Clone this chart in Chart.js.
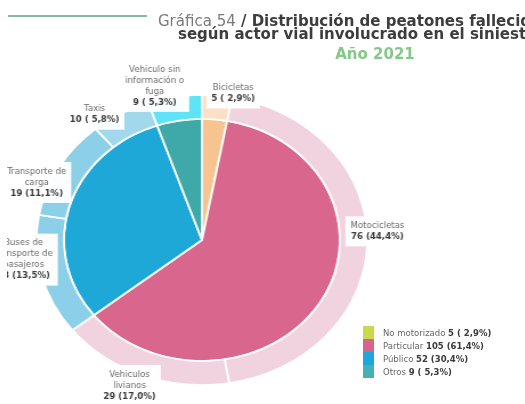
<!DOCTYPE html>
<html>
<head>
<meta charset="utf-8">
<script src="https://cdn.jsdelivr.net/npm/chart.js@4.4.1/dist/chart.umd.min.js"></script>
<style>
body { margin: 0; width: 525px; height: 404px; overflow: hidden; background: #fff; font-family: "DejaVu Sans", sans-serif; position: relative; }
.rule { position: absolute; left: 8px; top: 15px; width: 139px; height: 2px; background: #86b9a2; }
.t { position: absolute; white-space: nowrap; font-size: 15px; line-height: 15px; color: #3d3d3d; font-weight: 700; }
#t1 { left: 158px; top: 14px; }
#t1 span { font-weight: 400; color: #7a7a7a; }
#t2 { left: 178px; top: 27px; }
#t3 { left: 0; width: 750px; text-align: center; top: 47px; color: #84c98a; }
#plot { position: absolute; left: 7px; top: 0; width: 518px; height: 404px; overflow: hidden; }
#inner { width: 400px; height: 404px; transform: scaleX(1.14); transform-origin: 0 0; }
#legend { position: absolute; left: 363px; top: 326px; font-size: 8.5px; color: #666; }
.row { height: 13px; display: flex; align-items: center; white-space: nowrap; }
.sw { width: 11px; height: 13px; margin-right: 9px; }
.row b { color: #3a3a3a; }
</style>
</head>
<body>
<div class="rule"></div>
<div id="plot"><div id="inner"><canvas id="grafico" width="400" height="404"></canvas></div></div>
<div class="t" id="t1"><span>Gráfica 54</span> / Distribución de peatones fallecidos</div>
<div class="t" id="t2">según actor vial involucrado en el siniestro</div>
<div class="t" id="t3">Año 2021</div>
<div id="legend"></div>
<script>
// Anillo exterior: actor vial
const outerLabels = ['Bicicletas', 'Motocicletas', 'Vehiculos livianos', 'Buses de transporte de pasajeros', 'Transporte de carga', 'Taxis', 'Vehiculo sin información o fuga'];
const outerValues = [5, 76, 29, 23, 19, 10, 9];
const outerColors = ['#fbe0c6', '#f0d3de', '#f0d3de', '#8ccfe9', '#8ccfe9', '#a1d8eb', '#5ee4f6'];
const nameLines = [['Bicicletas'], ['Motocicletas'], ['Vehiculos', 'livianos'], ['Buses de', 'transporte de', 'pasajeros'], ['Transporte de', 'carga'], ['Taxis'], ['Vehiculo sin', 'información o', 'fuga']];

// Pie interior: tipo de vehículo
const innerLabels = ['No motorizado', 'Particular', 'Público', 'Otros'];
const innerValues = [5, 105, 52, 9];
const innerColors = ['#f6c48e', '#d9668d', '#1da8d8', '#3fa8a9'];
const legendColors = ['#c8d94b', '#d8648b', '#1ca8dc', '#45b1b4'];

const total = innerValues.reduce((a, b) => a + b, 0);
const SX = 1.14;
// desplazamiento de cada etiqueta respecto al borde de su arco
const labelOffsets = [[16, -2], [10, -10], [-13, 10], [-18, -16], [-22, 15], [-26, 1], [-20, -11]];

function fmt(v) {
    const p = (v / total * 100).toFixed(1).replace('.', ',');
    return v + ' (' + (p.length < 4 ? ' ' : '') + p + '%)';
}

document.getElementById('legend').innerHTML = innerLabels.map((l, i) =>
    '<div class="row"><div class="sw" style="background:' + legendColors[i] + '"></div>' + l + '&nbsp;<b>' + fmt(innerValues[i]) + '</b></div>'
).join('');

const FONT = '8.6px "DejaVu Sans"';
const FONT_B = 'bold 8.6px "DejaVu Sans"';

const etiquetas = {
    id: 'etiquetas',
    afterDatasetsDraw(chart) {
        const ctx = chart.ctx;
        chart.getDatasetMeta(0).data.forEach((arc, i) => {
            const mid = (arc.startAngle + arc.endAngle) / 2;
            const ax = arc.x + Math.cos(mid) * arc.outerRadius;
            const ay = arc.y + Math.sin(mid) * arc.outerRadius;
            const lines = nameLines[i];
            const val = fmt(outerValues[i]);
            const cx = labelOffsets[i][0], cy = labelOffsets[i][1];
            ctx.save();
            ctx.translate(ax, ay);
            ctx.scale(1 / SX, 1);
            ctx.font = FONT;
            let w = Math.max(...lines.map(l => ctx.measureText(l).width));
            ctx.font = FONT_B;
            w = Math.max(w, ctx.measureText(val).width);
            const lh = 11, n = lines.length + 1, h = n * lh;
            ctx.fillStyle = 'rgba(255,255,255,0.96)';
            ctx.fillRect(cx - w / 2 - 5, cy - h / 2 - 4, w + 10, h + 8);
            ctx.textAlign = 'center';
            ctx.textBaseline = 'middle';
            ctx.font = FONT;
            ctx.fillStyle = '#6b6b6b';
            lines.forEach((l, k) => ctx.fillText(l, cx, cy - h / 2 + lh * (k + 0.5)));
            ctx.font = FONT_B;
            ctx.fillStyle = '#3a3a3a';
            ctx.fillText(val, cx, cy - h / 2 + lh * (n - 0.5));
            ctx.restore();
        });
    }
};

new Chart(document.getElementById('grafico').getContext('2d'), {
    type: 'doughnut',
    data: {
        labels: outerLabels,
        datasets: [
            { data: outerValues, backgroundColor: outerColors, borderColor: '#fff', borderWidth: 1.8, weight: 24 },
            { data: innerValues, backgroundColor: innerColors, borderColor: '#fff', borderWidth: 1.8, weight: 121 }
        ]
    },
    options: {
        responsive: false,
        animation: false,
        cutout: 0,
        layout: { padding: { top: 94, bottom: 18, left: 0, right: 58 } },
        plugins: { legend: { display: false }, tooltip: { enabled: false } }
    },
    plugins: [etiquetas]
});
</script>
</body>
</html>
